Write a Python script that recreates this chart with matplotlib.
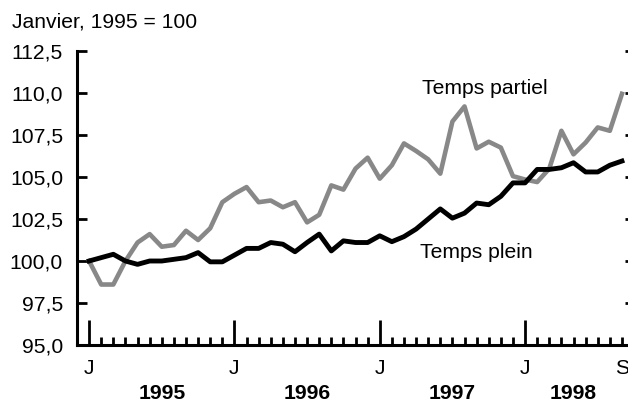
import numpy as np
import matplotlib.pyplot as plt

plt.rcParams['font.family'] = ['Liberation Sans', 'DejaVu Sans']

# Indices mensuels, janvier 1995 = 100 (janvier 1995 a septembre 1998)
temps_partiel = [100.0, 98.6, 98.6, 100.0, 101.1, 101.6, 100.85, 100.95, 101.8, 101.25, 101.95, 103.5,
                 104.0, 104.4, 103.5, 103.6, 103.2, 103.5, 102.3, 102.75, 104.5, 104.25, 105.5, 106.15,
                 104.9, 105.7, 107.0, 106.55, 106.05, 105.2, 108.3, 109.2, 106.7, 107.1, 106.75, 105.05,
                 104.85, 104.7, 105.5, 107.75, 106.35, 107.05, 107.95, 107.75, 109.95]
temps_plein = [100.0, 100.2, 100.4, 100.0, 99.8, 100.0, 100.0, 100.1, 100.2, 100.5, 99.95, 99.95,
               100.35, 100.75, 100.75, 101.1, 101.0, 100.55, 101.1, 101.6, 100.6, 101.2, 101.1, 101.1,
               101.5, 101.15, 101.45, 101.9, 102.5, 103.1, 102.55, 102.85, 103.45, 103.35, 103.85, 104.65,
               104.65, 105.45, 105.45, 105.55, 105.85, 105.3, 105.3, 105.7, 105.95]
mois = np.arange(len(temps_plein))

annees = ['1995', '1996', '1997', '1998']
annees_pos = [6, 18, 30, 40]
yticks = [95.0, 97.5, 100.0, 102.5, 105.0, 107.5, 110.0, 112.5]

fs = 15.2
fig = plt.figure(figsize=(6.28, 4.04), dpi=100)
ax = fig.add_axes([77 / 628, 59 / 404, 551 / 628, 294 / 404])

ax.plot(mois, temps_partiel, color='#888888', lw=3.3)
ax.plot(mois, temps_plein, color='black', lw=3.5)

ax.set_xlim(-1, 44.5)
ax.set_ylim(95, 112.5)

# axe des y
ax.set_yticks(yticks, labels=[f"{v:.1f}".replace('.', ',') for v in yticks])
ax.tick_params(axis='y', direction='in', length=7, width=2, pad=10, labelsize=fs)

# axe des x : grands traits en janvier, petits traits pour les autres mois
ax.set_xticks([0, 12, 24, 36], labels=['J', 'J', 'J', 'J'])
minor = [m for m in mois if m % 12 != 0]
ax.set_xticks(minor, labels=['S' if m == 44 else '' for m in minor], minor=True)
ax.tick_params(axis='x', which='major', direction='in', length=18, width=2, pad=10, labelsize=fs)
ax.tick_params(axis='x', which='minor', direction='in', length=6, width=2, pad=10, labelsize=fs)

for s in ['top', 'right']:
    ax.spines[s].set_visible(False)
for s in ['left', 'bottom']:
    ax.spines[s].set_linewidth(2.2)

# petits traits a droite
ax2 = ax.twinx()
ax2.set_ylim(95, 112.5)
ax2.set_yticks(yticks, labels=[])
ax2.tick_params(axis='y', direction='in', length=2.5, width=2)
for s in ax2.spines.values():
    s.set_visible(False)

for a, x in zip(annees, annees_pos):
    ax.text(x, -0.165, a, transform=ax.get_xaxis_transform(), ha='center', va='center',
            fontsize=fs, fontweight='bold')

ax.text(32.7, 110.25, 'Temps partiel', ha='center', va='center', fontsize=fs)
ax.text(32.0, 100.5, 'Temps plein', ha='center', va='center', fontsize=fs)

fig.text(12 / 628, 1 - 22 / 404, 'Janvier, 1995 = 100', ha='left', va='center', fontsize=fs)

fig.savefig('out.png', dpi=100)
